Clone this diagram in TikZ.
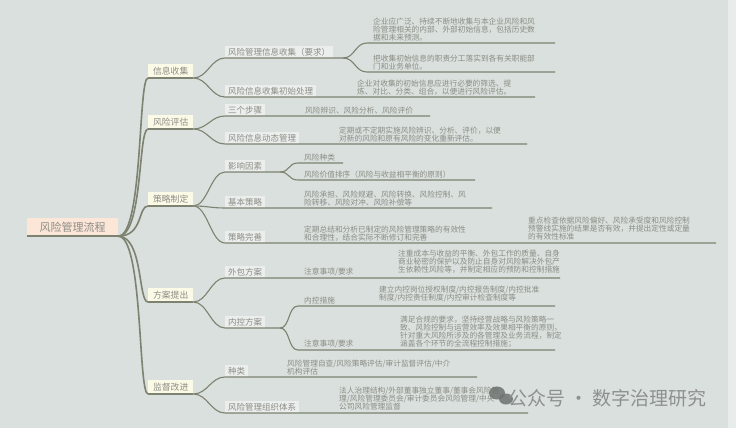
\documentclass[tikz,border=0pt]{standalone}
\usepackage{fontspec}
\setmainfont{Noto Sans CJK SC}
\definecolor{bg}{HTML}{D9E0DD}
\definecolor{ln}{HTML}{7E8270}
\definecolor{tx}{HTML}{8C8D86}
\definecolor{rootfill}{HTML}{FCE6D8}
\definecolor{lonefill}{HTML}{FBFAE6}
\definecolor{ltwofill}{HTML}{EBEEEC}
\definecolor{wm}{HTML}{8E9190}
\definecolor{wmicon}{HTML}{6E7270}
\tikzset{
  conn/.style={draw=ln, line width=1.1pt},
  rootconn/.style={draw=ln, line width=1.6pt},
  rootbox/.style={fill=rootfill, text=tx, font=\fontsize{11}{11}\selectfont, minimum width=91pt, minimum height=18pt, inner sep=0pt},
  lonebox/.style={fill=lonefill, text=tx, font=\fontsize{8.8}{9}\selectfont, minimum width=45pt, minimum height=14pt, inner xsep=3pt, inner ysep=0pt, anchor=south west},
  ltwobox/.style={fill=ltwofill, text=tx, font=\fontsize{8.5}{9}\selectfont, minimum height=12pt, inner xsep=3pt, inner ysep=0pt, anchor=south west},
  leaf/.style={text=tx, font=\fontsize{7.7}{8}\selectfont, align=left, inner sep=0pt, anchor=south west},
}
\begin{document}
\begin{tikzpicture}[x=1pt,y=-1pt]
\fill[bg] (0,0) rectangle (736,428);
\fill[bg!60!white] (728,0) rectangle (736,428);
\useasboundingbox (0,0) rectangle (736,428);

% root
\node[rootbox] (R) at (72.5,227) {风险管理流程};
\draw[rootconn] (R.south west) -- (R.south east);

% level 1
\node[lonebox] (I1) at (148,78) {信息收集};
\node[lonebox] (I2) at (148,129) {风险评估};
\node[lonebox] (I3) at (148,206) {策略制定};
\node[lonebox] (I4) at (148,302) {方案提出};
\node[lonebox] (I5) at (148,394) {监督改进};
\foreach \n in {I1,I2,I3,I4,I5}{
  \draw[rootconn] (R.south east) .. controls +(25,0) and +(-10,0) .. (\n.south west);
  \draw[conn] (\n.south west) -- (\n.south east);
}

% ---------- 信息收集
\node[ltwobox] (A1) at (225,58) {风险管理信息收集（要求）};
\node[ltwobox] (A2) at (225,97) {风险信息收集初始处理};
\node[leaf] (A1a) at (373,41.5) {企业应广泛、持续不断地收集与本企业风险和风\\险管理相关的内部、外部初始信息，包括历史数\\据和未来预测。};
\node[leaf] (A1b) at (373,70.5) {把收集初始信息的职责分工落实到各有关职能部\\门和业务单位。};
\node[leaf] (A2a) at (357,95.5) {企业对收集的初始信息应进行必要的筛选、提\\炼、对比、分类、组合，以便进行风险评估。};
\coordinate (A1e) at (343,58);
\coordinate (A1as) at (367,43); \coordinate (A1ae) at (555,43);
\coordinate (A1bs) at (367,72); \coordinate (A1be) at (555,72);
\coordinate (A2e) at (535,97);
\draw[conn] (I1.south east) .. controls +(14,0) and +(-14,0) .. (A1.south west) -- (A1e);
\draw[conn] (I1.south east) .. controls +(14,0) and +(-14,0) .. (A2.south west) -- (A2e);
\draw[conn] (A1e) .. controls +(12,0) and +(-12,0) .. (A1as) -- (A1ae);
\draw[conn] (A1e) .. controls +(12,0) and +(-12,0) .. (A1bs) -- (A1be);

% ---------- 风险评估
\node[ltwobox] (B1) at (225,116) {三个步骤};
\node[ltwobox] (B2) at (225,144) {风险信息动态管理};
\node[leaf] (B1a) at (305,114.5) {风险辨识、风险分析、风险评价};
\node[leaf] (B2a) at (339,142.5) {定期或不定期实施风险辨识、分析、评价，以便\\对新的风险和原有风险的变化重新评估。};
\coordinate (B1e) at (430,116);
\coordinate (B2e) at (527,144);
\draw[conn] (I2.south east) .. controls +(14,0) and +(-14,0) .. (B1.south west) -- (B1e);
\draw[conn] (I2.south east) .. controls +(14,0) and +(-14,0) .. (B2.south west) -- (B2e);

% ---------- 策略制定
\node[ltwobox] (C1) at (225,172) {影响因素};
\node[leaf] (C1a) at (304,161.5) {风险种类};
\node[leaf] (C1b) at (304,178.5) {风险价值排序（风险与收益相平衡的原则）};
\coordinate (C1e) at (280,172);
\coordinate (C1as) at (298,163); \coordinate (C1ae) at (343,163);
\coordinate (C1bs) at (298,180); \coordinate (C1be) at (475,180);
\node[ltwobox] (C2) at (225,208) {基本策略};
\node[leaf] (C2a) at (304,206.5) {风险承担、风险规避、风险转换、风险控制、风\\险转移、风险对冲、风险补偿等};
\coordinate (C2e) at (492,208);
\node[ltwobox] (C3) at (225,243) {策略完善};
\node[leaf] (C3a) at (304,241.5) {定期总结和分析已制定的风险管理策略的有效性\\和合理性，结合实际不断修订和完善};
\node[leaf] (C3b) at (528,240) {重点检查依据风险偏好、风险承受度和风险控制\\预警线实施的结果是否有效，并提出定性或定量\\的有效性标准};
\coordinate (C3e) at (716,243);
\draw[conn] (I3.south east) .. controls +(14,0) and +(-14,0) .. (C1.south west) -- (C1e);
\draw[conn] (C1e) .. controls +(10,0) and +(-10,0) .. (C1as) -- (C1ae);
\draw[conn] (C1e) .. controls +(10,0) and +(-10,0) .. (C1bs) -- (C1be);
\draw[conn] (I3.south east) .. controls +(14,0) and +(-14,0) .. (C2.south west) -- (C2e);
\draw[conn] (I3.south east) .. controls +(14,0) and +(-14,0) .. (C3.south west) -- (C3e);

% ---------- 方案提出
\node[ltwobox] (D1) at (225,278) {外包方案};
\node[leaf] (D1a) at (304,276.5) {注意事项/要求};
\node[leaf] (D1b) at (398,274) {注重成本与收益的平衡、外包工作的质量、自身\\商业秘密的保护以及防止自身对风险解决外包产\\生依赖性风险等，并制定相应的预防和控制措施};
\coordinate (D1e) at (560,278);
\node[ltwobox] (D2) at (225,328) {内控方案};
\coordinate (D2e) at (280,328);
\coordinate (D2as) at (298,306); \coordinate (D2ae) at (555,306);
\coordinate (D2bs) at (298,350); \coordinate (D2be) at (555,350);
\node[leaf] (D2a) at (304,304.5) {内控措施};
\node[leaf] (D2a1) at (379,302.5) {建立内控岗位授权制度/内控报告制度/内控批准\\制度/内控责任制度/内控审计检查制度等};
\node[leaf] (D2b) at (304,348.5) {注意事项/要求};
\node[leaf] (D2b1) at (400,347.5) {满足合规的要求，坚持经营战略与风险策略一\\致、风险控制与运营效率及效果相平衡的原则，\\针对重大风险所涉及的各管理及业务流程，制定\\涵盖各个环节的全流程控制措施；};
\draw[conn] (I4.south east) .. controls +(14,0) and +(-14,0) .. (D1.south west) -- (D1e);
\draw[conn] (I4.south east) .. controls +(14,0) and +(-14,0) .. (D2.south west) -- (D2e);
\draw[conn] (D2e) .. controls +(10,0) and +(-10,0) .. (D2as) -- (D2ae);
\draw[conn] (D2e) .. controls +(10,0) and +(-10,0) .. (D2bs) -- (D2be);

% ---------- 监督改进
\node[ltwobox] (E1) at (225,377) {种类};
\node[leaf] (E1a) at (287,375.5) {风险管理自查/风险策略评估/审计监督评估/中介\\机构评估};
\coordinate (E1e) at (477,377);
\node[ltwobox] (E2) at (225,413) {风险管理组织体系};
\node[leaf] (E2a) at (339,410.5) {法人治理结构/外部董事独立董事/董事会风险管\\理/风险管理委员会/审计委员会风险管理/中央\\公司风险管理监督};
\coordinate (E2e) at (528,413);
\draw[conn] (I5.south east) .. controls +(14,0) and +(-14,0) .. (E1.south west) -- (E1e);
\draw[conn] (I5.south east) .. controls +(14,0) and +(-14,0) .. (E2.south west) -- (E2e);

% watermark
\fill[wmicon, opacity=0.85] (497,393) ellipse [x radius=8, y radius=6.5];
\fill[wmicon, opacity=0.85] (506,399) ellipse [x radius=7, y radius=5.5];
\node[text=wm, font=\fontsize{19}{19}\selectfont, anchor=west, inner sep=0pt] (W) at (508,398) {公众号 · 数字治理研究};
\end{tikzpicture}
\end{document}
